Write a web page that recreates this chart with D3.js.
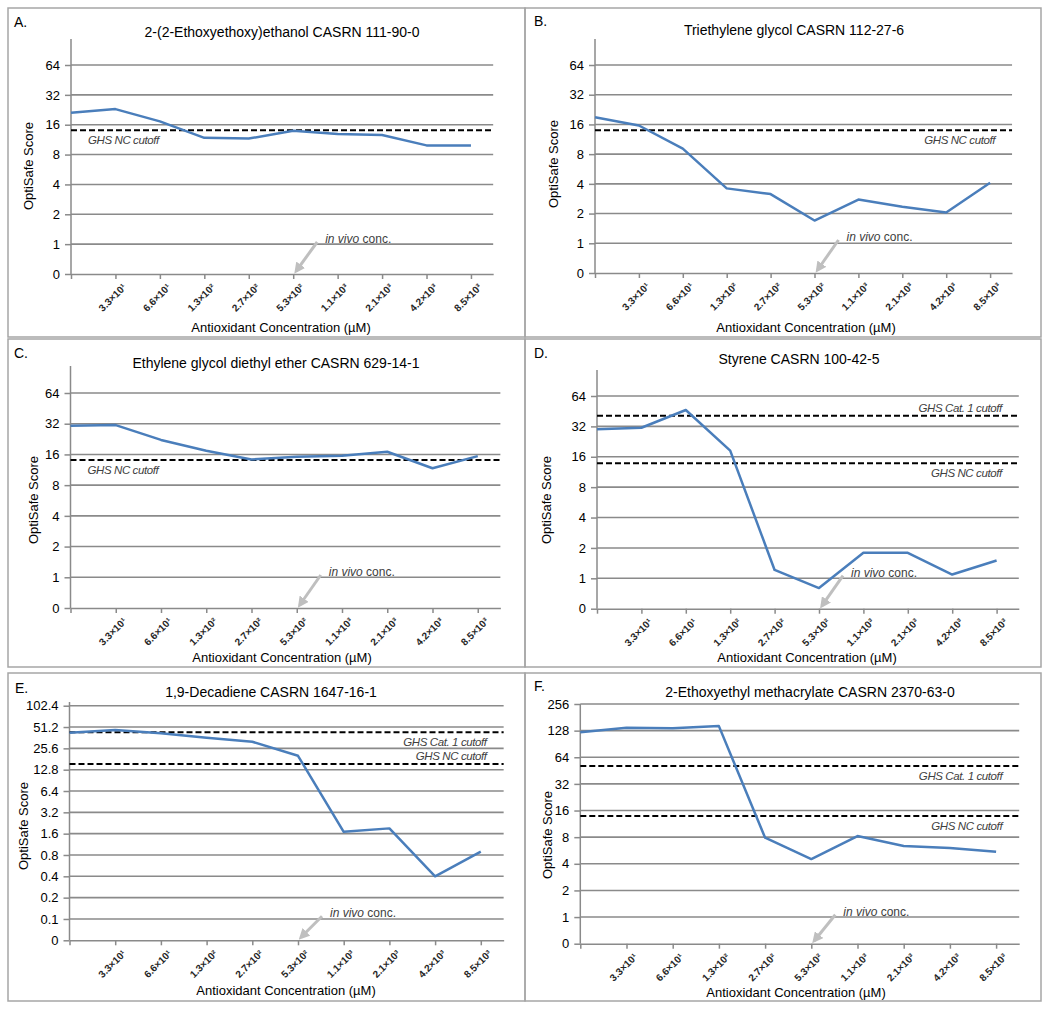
<!DOCTYPE html>
<html><head><meta charset="utf-8">
<script src="https://cdn.jsdelivr.net/npm/d3@7"></script>
<style>
body{margin:0;background:#fff;}
svg{display:block;font-family:"Liberation Sans",Arial,sans-serif;}
</style>
</head><body><svg id="chart" width="1050" height="1009"></svg>
<script>
// ---------------- DATA ----------------
const xCategories = ["", "3.3×10¹", "6.6×10¹", "1.3×10²", "2.7×10²", "5.3×10²", "1.1×10³", "2.1×10³", "4.2×10³", "8.5×10³"];
const inVivoIndex = 5;

const yTicksStd = [0.5, 1, 2, 4, 8, 16, 32, 64];
const yLabelsStd = ["0", "1", "2", "4", "8", "16", "32", "64"];
const yTicksE = [0.05, 0.1, 0.2, 0.4, 0.8, 1.6, 3.2, 6.4, 12.8, 25.6, 51.2, 102.4];
const yLabelsE = ["0", "0.1", "0.2", "0.4", "0.8", "1.6", "3.2", "6.4", "12.8", "25.6", "51.2", "102.4"];
const yTicksF = [0.5, 1, 2, 4, 8, 16, 32, 64, 128, 256];
const yLabelsF = ["0", "1", "2", "4", "8", "16", "32", "64", "128", "256"];

const panelLetters = ["A.", "B.", "C.", "D.", "E.", "F."];
const panelTitles = [
  "2-(2-Ethoxyethoxy)ethanol CASRN 111-90-0",
  "Triethylene glycol CASRN 112-27-6",
  "Ethylene glycol diethyl ether CASRN 629-14-1",
  "Styrene CASRN 100-42-5",
  "1,9-Decadiene CASRN 1647-16-1",
  "2-Ethoxyethyl methacrylate CASRN 2370-63-0"
];

const scoreA = [21.1, 23.0, 17.3, 11.8, 11.6, 13.9, 12.9, 12.6, 9.9, 9.9];
const scoreB = [18.9, 15.6, 9.1, 3.6, 3.15, 1.7, 2.77, 2.35, 2.05, 4.1];
const scoreC = [30.5, 31.0, 22.2, 17.4, 14.3, 15.2, 15.5, 17.0, 11.7, 15.4];
const scoreD = [30.0, 31.0, 46.5, 18.4, 1.21, 0.8, 1.79, 1.79, 1.09, 1.5];
const scoreE = [42.5, 46.4, 41.7, 36.2, 31.7, 20.1, 1.70, 1.90, 0.40, 0.89];
const scoreF = [122.6, 138, 136, 144, 7.9, 4.53, 8.24, 6.35, 6.03, 5.48];

const ncCutoffs = [14.1, 14.0, 14.1, 13.8, 15.4, 13.9];
const cat1Cutoffs = [null, null, null, 40.8, 43.1, 51.0];

const xAxisTitle = "Antioxidant Concentration (µM)";
const yAxisTitle = "OptiSafe Score";
const ncLabel = "GHS NC cutoff";
const cat1Label = "GHS Cat. 1 cutoff";

const seriesList = [scoreA, scoreB, scoreC, scoreD, scoreE, scoreF];
const yTickSets = [yTicksStd, yTicksStd, yTicksStd, yTicksStd, yTicksE, yTicksF];
const yLabelSets = [yLabelsStd, yLabelsStd, yLabelsStd, yLabelsStd, yLabelsE, yLabelsF];

// ---------------- LAYOUT ----------------
const layouts = [
  {box:[8,8,525,337],   x0:71,    step:44.44, yBottom:274,   yTop:65,    axisTop:39,  title:[282,37],  xTitle:[281,332], yTitle:[28,166],  letter:[14,27],  vivoDy:-32, nc:["left","below"], cat1:null},
  {box:[525,8,1041,337],x0:595,   step:43.9,  yBottom:273,   yTop:65,    axisTop:39,  title:[794,35],  xTitle:[806,332], yTitle:[553,164], letter:[534,26], vivoDy:-33, nc:["right","below"], cat1:null},
  {box:[8,339,525,667], x0:70.5,  step:45.25, yBottom:608,   yTop:393,   axisTop:366, title:[276,368], xTitle:[282,662], yTitle:[33,500],  letter:[14,358], vivoDy:-33, nc:["left","below"], cat1:null},
  {box:[525,339,1041,667],x0:597, step:44.4,  yBottom:608.7, yTop:396,   axisTop:370, title:[799,364], xTitle:[807,662], yTitle:[546,500], letter:[534,358], vivoDy:-33, nc:["right","below"], cat1:["right","above"]},
  {box:[8,673,525,1001],x0:69.5,  step:45.7,  yBottom:940.3, yTop:705.7, axisTop:702, title:[271,697], xTitle:[286,995], yTitle:[23,826],  letter:[15,693], vivoDy:-24, nc:["right","above"], cat1:["right","below"]},
  {box:[525,673,1041,1001],x0:580.3,step:46.2,yBottom:943.7, yTop:704,   axisTop:704, title:[810,697], xTitle:[796,997], yTitle:[547,835], letter:[534,691], vivoDy:-29, nc:["right","below"], cat1:["right","below"]}
];

const gridColor = "#8a8a8a";
const lineColor = "#4a7ebb";

const svg = d3.select("#chart");
svg.append("rect").attr("width", 1050).attr("height", 1009).attr("fill", "#fff");
svg.append("defs").append("marker")
  .attr("id", "arrowHead").attr("viewBox", "0 0 10 10")
  .attr("refX", 7).attr("refY", 5)
  .attr("markerWidth", 11).attr("markerHeight", 11)
  .attr("markerUnits", "userSpaceOnUse").attr("orient", "auto")
  .append("path").attr("d", "M0,0L10,5L0,10z").attr("fill", "#bfbfbf");

layouts.forEach((L, i) => {
  const g = svg.append("g");
  const [bx0, by0, bx1, by1] = L.box;
  g.append("rect").attr("x", bx0).attr("y", by0).attr("width", bx1 - bx0).attr("height", by1 - by0)
    .attr("fill", "none").attr("stroke", "#a6a6a6").attr("stroke-width", 1.5);

  const yt = yTickSets[i];
  const yl = yLabelSets[i];
  const x = d3.scaleLinear().domain([0, 9.5]).range([L.x0, L.x0 + 9.5 * L.step]);
  const y = d3.scaleLog().base(2).domain([yt[0], yt[yt.length - 1]]).range([L.yBottom, L.yTop]);
  const xEnd = x(9.5);

  // gridlines
  g.append("g").selectAll("line").data(yt.slice(1)).join("line")
    .attr("x1", L.x0).attr("x2", xEnd).attr("y1", d => y(d)).attr("y2", d => y(d))
    .attr("stroke", gridColor).attr("stroke-width", 1.6);

  // y axis
  const yAxis = d3.axisLeft(y).tickValues(yt).tickFormat((d, j) => yl[j]).tickSize(6).tickPadding(5);
  const yg = g.append("g").attr("transform", `translate(${L.x0},0)`).call(yAxis);
  yg.select(".domain").remove();
  yg.selectAll(".tick line").attr("stroke", gridColor).attr("stroke-width", 1.5);
  yg.selectAll(".tick text").attr("font-size", 13).attr("fill", "#000")
    .style("font-family", '"Liberation Sans",Arial,sans-serif');
  g.append("line").attr("x1", L.x0).attr("x2", L.x0).attr("y1", L.yBottom).attr("y2", L.axisTop)
    .attr("stroke", gridColor).attr("stroke-width", 1.5);

  // x axis
  const xAxis = d3.axisBottom(x).tickValues(d3.range(xCategories.length))
    .tickFormat(j => xCategories[j]).tickSize(5).tickSizeOuter(0);
  const xg = g.append("g").attr("transform", `translate(0,${L.yBottom})`).call(xAxis);
  xg.select(".domain").attr("stroke", gridColor).attr("stroke-width", 1.5);
  xg.selectAll(".tick line").attr("stroke", gridColor).attr("stroke-width", 1.5);
  xg.selectAll(".tick text")
    .attr("x", 11).attr("y", 14).attr("dy", null)
    .attr("text-anchor", "end").attr("transform", "rotate(-45 11 14)")
    .attr("font-size", 10).attr("font-weight", "bold").attr("fill", "#262626")
    .style("font-family", '"Liberation Sans",Arial,sans-serif');

  // cutoff lines
  const cutoffs = [];
  cutoffs.push({v: ncCutoffs[i], text: ncLabel, place: L.nc});
  if (cat1Cutoffs[i] !== null) cutoffs.push({v: cat1Cutoffs[i], text: cat1Label, place: L.cat1});
  cutoffs.forEach(c => {
    const cy = y(c.v);
    g.append("line").attr("x1", L.x0).attr("x2", xEnd).attr("y1", cy).attr("y2", cy)
      .attr("stroke", "#000").attr("stroke-width", 2).attr("stroke-dasharray", "6,3");
    const left = c.place[0] === "left";
    g.append("text")
      .attr("x", left ? L.x0 + 17 : xEnd - 17)
      .attr("y", c.place[1] === "below" ? cy + 14 : cy - 4)
      .attr("text-anchor", left ? "start" : "end")
      .attr("font-size", 11.5).attr("font-style", "italic").attr("fill", "#404040")
      .attr("letter-spacing", -0.4)
      .text(c.text);
  });

  // series line
  g.append("path").datum(seriesList[i])
    .attr("d", d3.line().x((d, j) => x(j)).y(d => y(d)))
    .attr("fill", "none").attr("stroke", lineColor).attr("stroke-width", 2.5)
    .attr("stroke-linejoin", "round");

  // in vivo annotation
  const xv = x(inVivoIndex);
  const ty = L.yBottom + L.vivoDy;
  g.append("line").attr("x1", xv + 24).attr("y1", ty).attr("x2", xv + 3).attr("y2", L.yBottom - 3)
    .attr("stroke", "#bfbfbf").attr("stroke-width", 3).attr("marker-end", "url(#arrowHead)");
  const vt = g.append("text").attr("x", xv + 32).attr("y", ty + 1).attr("font-size", 12).attr("fill", "#404040");
  vt.append("tspan").attr("font-style", "italic").text("in vivo");
  vt.append("tspan").text(" conc.");

  // titles
  g.append("text").attr("x", L.letter[0]).attr("y", L.letter[1]).attr("font-size", 14).attr("fill", "#000").text(panelLetters[i]);
  g.append("text").attr("x", L.title[0]).attr("y", L.title[1]).attr("text-anchor", "middle")
    .attr("font-size", 14).attr("fill", "#000").text(panelTitles[i]);
  g.append("text").attr("x", L.xTitle[0]).attr("y", L.xTitle[1]).attr("text-anchor", "middle")
    .attr("font-size", 13).attr("fill", "#000").text(xAxisTitle);
  g.append("text").attr("transform", `translate(${L.yTitle[0] + 5},${L.yTitle[1]}) rotate(-90)`)
    .attr("text-anchor", "middle").attr("font-size", 13).attr("fill", "#000").text(yAxisTitle);
});
</script>
</body></html>
